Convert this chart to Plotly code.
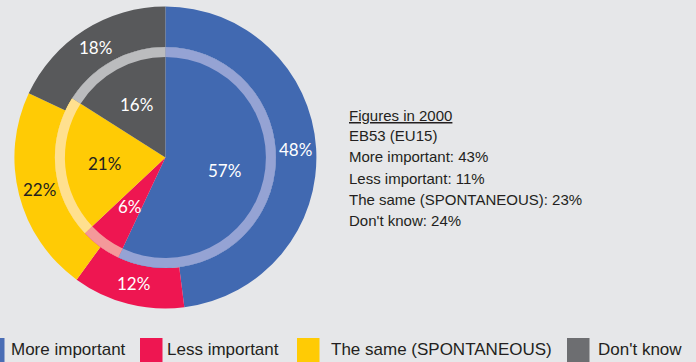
import math
import plotly.graph_objects as go

# data
categories = ["More important", "Less important", "The same (SPONTANEOUS)", "Don't know"]
outer_values = [48, 12, 22, 18]
inner_values = [57, 6, 21, 16]
values_2000 = [43, 11, 23, 24]

colors = ["#4169B1", "#EE1651", "#FFCB05", "#58595B"]
ring_colors = ["#95A3D4", "#F4999A", "#FFE08F", "#BBBCBE"]
legend_colors = ["#4A6DB5", "#EE1651", "#FFCB05", "#6D6E71"]
text_colors = ["white", "white", "#231F20", "white"]

W, H = 696, 362
BG = "#E6E7E9"
SANS = "Liberation Sans, Arial, sans-serif"
PCT_FONT = "Lato, Open Sans, sans-serif"

CX, CY = 165.4, 157.5  # pie centre in px (from top-left)
R_OUT, R_IN, R_BAND = 151, 110.5, 100.5


def domain(r):
    """pixel radius around the pie centre -> paper domain"""
    return dict(
        x=[(CX - r) / W, (CX + r) / W],
        y=[(H - CY - r) / H, (H - CY + r) / H],
    )


def label_spots(values, r):
    """mid angle of each slice (clockwise from 12 o'clock) -> paper x, y"""
    total = sum(values)
    start = 0
    spots = []
    for v in values:
        a = 2 * math.pi * (start + v / 2) / total
        spots.append(((CX + r * math.sin(a)) / W, (H - CY + r * math.cos(a)) / H))
        start += v
    return spots


fig = go.Figure()

pie_common = dict(
    labels=categories,
    sort=False,
    direction="clockwise",
    rotation=0,
    textinfo="none",
    showlegend=False,
)

# outer ring
fig.add_trace(
    go.Pie(
        values=outer_values,
        domain=domain(R_OUT),
        hole=R_IN / R_OUT,
        marker=dict(colors=colors, line=dict(width=0)),
        hoverinfo="label+value",
        **pie_common,
    )
)

# inner pie
fig.add_trace(
    go.Pie(
        values=inner_values,
        domain=domain(R_IN),
        marker=dict(colors=colors, line=dict(width=0)),
        hoverinfo="label+value",
        **pie_common,
    )
)

# light band on the edge of the inner pie
fig.add_trace(
    go.Pie(
        values=inner_values,
        domain=domain(R_IN),
        hole=R_BAND / R_IN,
        marker=dict(colors=ring_colors, line=dict(width=0)),
        hoverinfo="skip",
        **pie_common,
    )
)

# percentage labels, placed on each slice's mid angle
for values, r in [(outer_values, 130), (inner_values, 61)]:
    for (x, y), v, tc in zip(label_spots(values, r), values, text_colors):
        fig.add_annotation(
            x=x, y=y, xref="paper", yref="paper",
            xanchor="center", yanchor="middle",
            text=f"{v}%", showarrow=False,
            font=dict(family=PCT_FONT, size=17, color=tc),
        )

# side note with the 2000 figures
side_lines = ["<u>Figures in 2000</u>", "EB53 (EU15)"] + [
    f"{c}: {v}%" for c, v in zip(categories, values_2000)
]
for i, line in enumerate(side_lines):
    fig.add_annotation(
        x=347 / W,
        y=1 - (115 + 21 * i) / H,
        xref="paper",
        yref="paper",
        xanchor="left",
        yanchor="middle",
        text=line,
        showarrow=False,
        font=dict(family=SANS, size=15, color="#231F20"),
    )

# legend at the bottom (drawn by hand to match the original layout)
square_x = [-18, 140, 297, 567]
text_x = [9, 165, 329, 596]
for cat, col, x0, tx in zip(categories, legend_colors, square_x, text_x):
    fig.add_shape(
        type="rect",
        xref="paper",
        yref="paper",
        x0=x0 / W,
        x1=(x0 + 22.5) / W,
        y0=-0.05,
        y1=1 - 338 / H,
        fillcolor=col,
        line=dict(width=0),
    )
    fig.add_annotation(
        x=tx / W,
        y=1 - 349 / H,
        xref="paper",
        yref="paper",
        xanchor="left",
        yanchor="middle",
        text=cat,
        showarrow=False,
        font=dict(family=SANS, size=17, color="#231F20"),
    )

fig.update_layout(
    width=W,
    height=H,
    autosize=False,
    margin=dict(l=0, r=0, t=0, b=0, pad=0),
    paper_bgcolor=BG,
    plot_bgcolor=BG,
    showlegend=False,
)

fig.write_html(
    "out.html",
    config={"displayModeBar": False},
    post_script="document.body.style.margin='0';document.body.style.overflow='hidden';",
)
